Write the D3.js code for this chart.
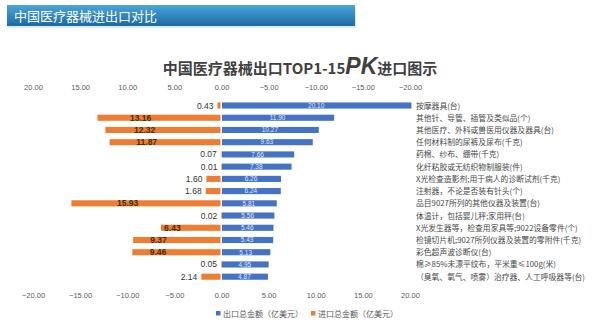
<!DOCTYPE html>
<html><head><meta charset="utf-8">
<script src="https://cdn.jsdelivr.net/npm/d3@7"></script>
<style>
body{margin:0;background:#fff;}
svg{display:block;font-family:"Noto Sans CJK SC","Noto Sans",sans-serif;}
</style></head>
<body><svg id="c" width="600" height="330"></svg>
<script>
const categories = [
  "按摩器具(台)",
  "其他针、导管、插管及类似品(个)",
  "其他医疗、外科或兽医用仪器及器具(台)",
  "任何材料制的尿裤及尿布(千克)",
  "药棉、纱布、绷带(千克)",
  "化纤粘胶或无纺织物制服装(件)",
  "X光检查造影剂;用于病人的诊断试剂(千克)",
  "注射器，不论是否装有针头(个)",
  "品目9027所列的其他仪器及装置(台)",
  "体温计，包括婴儿秤;家用秤(台)",
  "X光发生器等，检查用家具等;9022设备零件(个)",
  "检镜切片机;9027所列仪器及装置的零附件(千克)",
  "彩色超声波诊断仪(台)",
  "棉≥85%未漂平纹布，平米重≤100g(米)",
  "（臭氧、氧气、喷雾）治疗器、人工呼吸器等(台)"
];
const exportValues = [20.10, 11.90, 10.27, 9.63, 7.66, 7.38, 6.26, 6.24, 5.81, 5.56, 5.46, 5.43, 5.13, 4.95, 4.87];
const importValues = [0.43, 13.16, 12.32, 11.87, 0.07, 0.01, 1.60, 1.68, 15.93, 0.02, 6.43, 9.37, 9.46, 0.05, 2.14];
const tickValues = [-20, -15, -10, -5, 0, 5, 10, 15, 20];
const seriesNames = ["出口总金额（亿美元）", "进口总金额（亿美元）"];
const colors = ["#4472C4", "#ED7D31"];

const svg = d3.select("#c");
const defs = svg.append("defs");
const g1 = defs.append("linearGradient").attr("id","hdr").attr("x1",0).attr("y1",0).attr("x2",0).attr("y2",1);
g1.append("stop").attr("offset","0%").attr("stop-color","#4aa6da");
g1.append("stop").attr("offset","100%").attr("stop-color","#1c6aa3");

// header bar
svg.append("rect").attr("x",8).attr("y",7).attr("width",348).attr("height",21).attr("fill","#9cc").attr("opacity",0.35);
svg.append("rect").attr("x",7).attr("y",5).attr("width",348).attr("height",21).attr("fill","url(#hdr)");
svg.append("text").attr("x",14).attr("y",20.5).attr("fill","#fff").attr("font-size",13).text("中国医疗器械进出口对比");

// title
const title = svg.append("text").attr("x",300).attr("y",74).attr("text-anchor","middle").attr("fill","#404040");
title.append("tspan").attr("font-size",15).attr("font-weight","bold").text("中国医疗器械出口TOP1-15");
title.append("tspan").attr("font-size",23).attr("font-weight","bold").attr("font-style","italic").attr("font-family","Liberation Sans, Arial, sans-serif").text("PK");
title.append("tspan").attr("font-size",15).attr("font-weight","bold").text("进口图示");

const x = d3.scaleLinear().domain([-20, 20]).range([33, 410]);
const y = d3.scaleBand().domain(categories).range([99.4, 282.8]).paddingInner(0.5).paddingOuter(0.25);

const fmt = d3.format(".2f");
const topAxis = d3.axisTop(x).tickValues(tickValues).tickSize(0).tickFormat(d => fmt(d === 0 ? 0 : -d));
svg.append("g").attr("transform","translate(0,93)").call(topAxis)
  .call(g => g.select(".domain").remove())
  .call(g => g.selectAll("text").attr("fill","#595959").attr("font-size",7.5).attr("font-family","Liberation Sans, Arial, sans-serif"));
const botAxis = d3.axisBottom(x).tickValues(tickValues).tickSize(0).tickFormat(d => fmt(d));
svg.append("g").attr("transform","translate(0,290)").call(botAxis)
  .call(g => g.select(".domain").remove())
  .call(g => g.selectAll("text").attr("fill","#595959").attr("font-size",7.5).attr("font-family","Liberation Sans, Arial, sans-serif"));

const rows = categories.map((c,i) => ({c, e: exportValues[i], im: importValues[i]}));

svg.append("g").selectAll("rect").data(rows).join("rect")
  .attr("x", d => x(-d.im)).attr("y", d => y(d.c))
  .attr("width", d => Math.max(x(0) - x(-d.im) - 1, 0.6)).attr("height", y.bandwidth())
  .attr("fill", colors[1]);
svg.append("g").selectAll("rect").data(rows).join("rect")
  .attr("x", x(0)+0.5).attr("y", d => y(d.c))
  .attr("width", d => x(d.e) - x(0)).attr("height", y.bandwidth())
  .attr("fill", colors[0]);

svg.append("g").selectAll("text").data(rows).join("text")
  .attr("x", d => (x(0) + x(d.e))/2).attr("y", d => y(d.c) + y.bandwidth()/2 + 2.3)
  .attr("text-anchor","middle").attr("font-size",6.5).attr("fill","#dfe8f7")
  .attr("font-family","Liberation Sans, Arial, sans-serif")
  .text(d => fmt(d.e));

svg.append("g").selectAll("text").data(rows).join("text")
  .attr("x", d => d.im >= 5 ? x(-(d.im/2 + 2)) : x(-d.im) - 4)
  .attr("y", d => y(d.c) + y.bandwidth()/2 + 3)
  .attr("text-anchor", d => d.im >= 5 ? "middle" : "end")
  .attr("font-size", 8.5)
  .attr("font-weight", d => d.im >= 5 ? "bold" : "normal")
  .attr("fill", d => d.im >= 5 ? "#4a2c10" : "#333")
  .attr("font-family","Liberation Sans, Arial, sans-serif")
  .text(d => fmt(d.im));

svg.append("g").selectAll("text").data(rows).join("text")
  .attr("x", 416).attr("y", d => y(d.c) + y.bandwidth()/2 + 3)
  .attr("font-size", 7.8).attr("fill","#484848")
  .text(d => d.c);

const leg = svg.append("g");
const legX = [216, 311];
seriesNames.forEach((n,i) => {
  leg.append("rect").attr("x", legX[i]).attr("y", 311).attr("width",4.5).attr("height",4.5).attr("fill",colors[i]);
  leg.append("text").attr("x", legX[i]+7).attr("y", 316.5).attr("font-size",8).attr("fill","#595959").text(n);
});
</script></body></html>
